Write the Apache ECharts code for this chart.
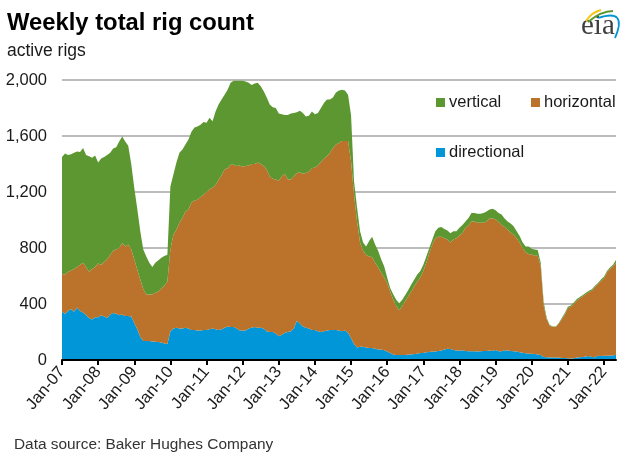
<!DOCTYPE html>
<html>
<head>
<meta charset="utf-8">
<style>html,body{margin:0;padding:0;background:#fff}#chart{width:626px;height:460px}</style>
<script src="https://cdn.jsdelivr.net/npm/echarts@6/dist/echarts.min.js"></script>
</head>
<body>
<div id="chart"></div>
<script>
// monthly readings, Jan-07 to May-22
var years = ['07','08','09','10','11','12','13','14','15','16','17','18','19','20','21','22'];
var months = ['Jan','Feb','Mar','Apr','May','Jun','Jul','Aug','Sep','Oct','Nov','Dec'];

var directional = [
  345,330,350,365,345,375,350,340,320,300,290,305,
  305,320,310,300,325,335,330,320,325,315,315,310,
  265,220,165,135,135,135,133,130,128,125,118,115,
  205,225,230,225,225,230,225,215,215,210,210,215,
  215,220,225,220,215,220,230,240,235,235,225,210,
  210,210,225,230,235,230,230,225,205,200,200,190,
  170,180,195,200,205,225,280,260,240,230,225,215,
  215,205,200,205,210,215,215,215,210,205,210,195,
  155,115,90,95,95,90,85,85,80,75,75,70,
  60,50,40,35,35,35,35,40,40,42,45,50,
  50,55,58,60,60,65,68,75,80,78,72,68,
  68,70,65,62,62,62,60,62,65,65,68,65,
  72,62,62,70,68,65,62,60,55,52,48,45,
  45,42,40,35,22,20,18,18,17,17,15,15,
  12,10,12,18,20,22,25,28,22,20,30,28,
  30,30,32,32,38
];
var horizontal = [
  270,280,280,275,305,290,330,355,345,330,360,360,
  385,360,390,420,425,445,460,480,510,495,510,480,
  455,425,410,370,333,333,335,350,362,385,412,445,
  585,670,700,755,790,830,850,910,925,935,955,965,
  985,1000,1005,1030,1070,1100,1130,1130,1160,1160,1160,1180,
  1170,1175,1165,1170,1165,1180,1170,1160,1155,1110,1095,1100,
  1110,1130,1135,1090,1085,1085,1055,1080,1090,1105,1120,1155,
  1160,1185,1215,1235,1245,1265,1300,1325,1340,1360,1355,1370,
  1265,1065,900,745,685,660,655,650,615,585,550,520,
  490,440,390,350,320,350,385,415,450,483,515,540,
  585,640,707,765,810,815,812,795,780,762,788,802,
  822,835,880,898,928,928,920,918,915,925,942,945,
  933,923,903,880,862,845,833,810,785,748,722,710,
  710,703,705,635,363,270,227,217,218,243,275,310,
  358,370,388,407,420,433,445,457,473,500,515,537,
  550,595,618,638,657
];
var vertical = [
  835,865,835,830,830,825,805,820,800,825,795,795,
  720,760,750,745,730,730,730,760,762,750,705,610,
  510,435,345,285,272,227,197,215,222,220,212,192,
  450,430,480,500,488,480,500,505,520,522,515,520,
  495,510,475,525,540,540,535,560,585,600,610,605,
  615,605,590,565,575,570,555,535,515,515,510,510,
  480,445,420,460,470,455,435,440,435,405,400,405,
  380,375,385,395,405,380,360,370,375,365,360,330,
  330,95,100,80,60,60,110,145,130,120,95,80,
  40,25,40,45,50,45,45,45,50,50,50,45,
  45,45,35,35,50,65,70,65,65,65,60,50,
  55,60,45,55,60,60,65,65,70,70,65,70,
  65,65,75,60,60,65,60,50,45,40,40,55,
  40,45,40,25,25,10,5,5,5,5,10,10,
  10,10,10,10,10,10,10,10,10,10,5,10,
  15,10,10,10,20
];

var categories = [];
years.forEach(function (y) {
  months.forEach(function (m) {
    if (categories.length < directional.length) {
      categories.push(m + '-' + y);
    }
  });
});

var font = '"Liberation Sans", Arial, sans-serif';
var green = '#5d9732', orange = '#bb722b', blue = '#0096d7';

function areaSeries(name, data, color) {
  return {
    name: name,
    type: 'line',
    stack: 'rigs',
    data: data,
    showSymbol: false,
    lineStyle: { width: 0 },
    areaStyle: { color: color, opacity: 1 },
    itemStyle: { color: color }
  };
}

function legendAt(names, left, top) {
  return {
    data: names,
    left: left,
    top: top,
    padding: 0,
    itemWidth: 9,
    itemHeight: 9,
    itemGap: 0,
    icon: 'rect',
    textStyle: { fontFamily: font, fontSize: 16.5, color: '#1a1a1a', padding: [0, 0, 0, -1] }
  };
}

function curve(x1, y1, cx, cy, x2, y2, color, w) {
  return {
    type: 'bezierCurve',
    shape: { x1: x1, y1: y1, cpx1: cx, cpy1: cy, x2: x2, y2: y2 },
    style: { fill: 'none', stroke: color, lineWidth: w }
  };
}

var chart = echarts.init(document.getElementById('chart'), null, { renderer: 'canvas' });
chart.setOption({
  animation: false,
  backgroundColor: '#fff',
  grid: { left: 62, right: 10, top: 80, height: 280, containLabel: false },
  legend: [
    legendAt(['vertical'], 436, 94),
    legendAt(['horizontal'], 531, 94),
    legendAt(['directional'], 436, 144)
  ],
  xAxis: {
    type: 'category',
    data: categories,
    boundaryGap: false,
    axisLine: { lineStyle: { color: '#000', width: 2 } },
    axisTick: { interval: 11, length: 5, lineStyle: { color: '#000', width: 2 } },
    axisLabel: { interval: 11, rotate: 50, margin: 9, fontFamily: font, fontSize: 16.5, color: '#1a1a1a' },
    splitLine: { show: false },
    z: 5
  },
  yAxis: {
    type: 'value',
    min: 0,
    max: 2000,
    interval: 400,
    axisLine: { show: false },
    axisTick: { show: false },
    axisLabel: {
      margin: 15,
      fontFamily: font,
      fontSize: 16.5,
      color: '#1a1a1a',
      formatter: function (v) { return v.toLocaleString('en-US'); }
    },
    splitLine: { lineStyle: { color: '#a6a6a6', width: 1.5 } }
  },
  series: [
    areaSeries('directional', directional, blue),
    areaSeries('horizontal', horizontal, orange),
    areaSeries('vertical', vertical, green)
  ],
  graphic: [
    { type: 'text', left: 7, top: 11, style: { text: 'Weekly total rig count', fontFamily: font, fontWeight: 'bold', fontSize: 23.8, fill: '#000' } },
    { type: 'text', left: 7, top: 42, style: { text: 'active rigs', fontFamily: font, fontSize: 17.5, fill: '#1a1a1a' } },
    { type: 'text', left: 14, top: 437, style: { text: 'Data source: Baker Hughes Company', fontFamily: font, fontSize: 15.4, fill: '#333' } },
    // eia logo
    { type: 'text', left: 581, top: 12, style: { text: 'eia', fontFamily: '"Liberation Serif", serif', fontSize: 29, fill: '#3f3f3f' } },
    curve(586, 21, 592, 12, 601, 10, '#f5c518', 2),
    curve(588, 22, 601, 11, 613, 11, '#5d9732', 1.8),
    curve(598, 18, 628, 8, 615, 38, '#0096d7', 1.8)
  ]
});
</script>
</body>
</html>
